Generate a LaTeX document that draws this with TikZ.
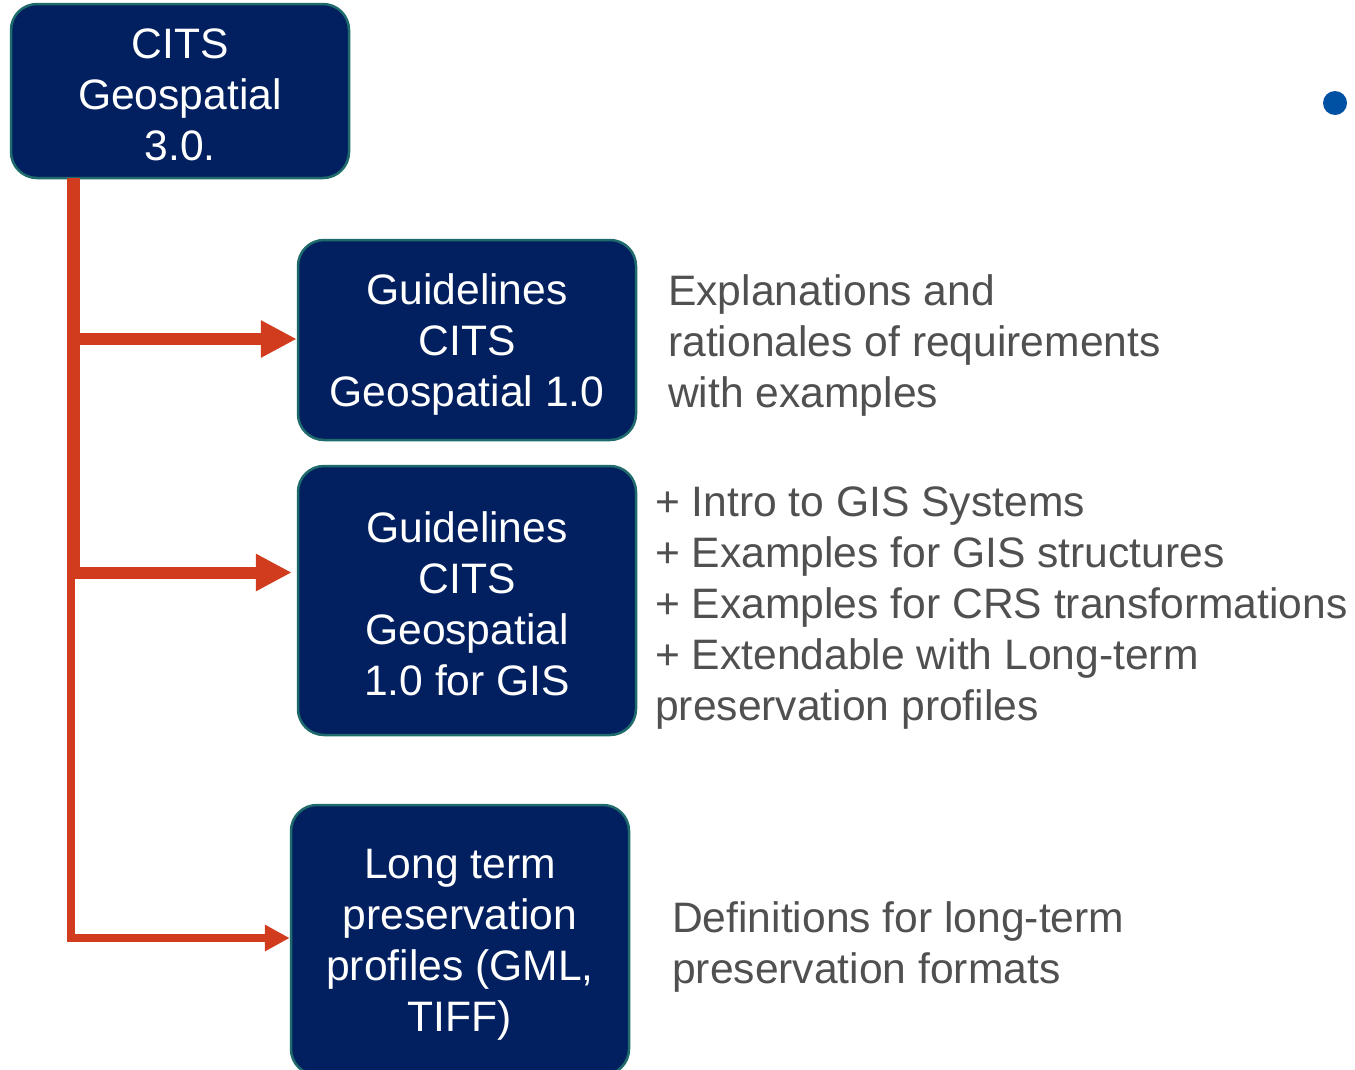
\documentclass[tikz,border=0pt]{standalone}
\usepackage{fontspec}
\setmainfont{Liberation Sans}
\usetikzlibrary{arrows.meta}
\definecolor{navy}{HTML}{02205F}
\definecolor{teal}{HTML}{1F6B6B}
\definecolor{arrred}{HTML}{D13C1E}
\definecolor{txtgray}{HTML}{505050}
\definecolor{dotblue}{HTML}{0051A4}
\tikzset{
  box/.style={draw=teal, line width=2.5pt, fill=navy, rounded corners=26pt,
    inner sep=0pt, minimum width=338pt},
  boxtext/.style={text=white, align=center, inner sep=0pt,
    font=\fontsize{42.6}{51}\selectfont},
  note/.style={text=txtgray, align=left, anchor=west, inner sep=0pt,
    font=\fontsize{42.6}{51}\selectfont},
  thick arrow/.style={draw=arrred, line width=12pt, line cap=butt,
    -{Triangle[length=36pt,width=35pt]}},
  thin arrow/.style={draw=arrred, line width=8pt, line cap=butt, line join=miter,
    -{Triangle[length=25pt,width=25pt]}}
}
\begin{document}
\begin{tikzpicture}[x=1pt,y=-1pt]
\useasboundingbox (0,0) rectangle (1355,1069);
\clip (0,0) rectangle (1355,1069);
\node[box, minimum height=174pt] (b1) at (180,91) {};
\node[box, minimum height=200pt] (b2) at (467,340) {};
\node[box, minimum height=269pt] (b3) at (467,600.5) {};
\node[box, minimum height=270pt] (b4) at (460,940) {};
\node[boxtext] (b1t) at ([yshift=-4pt]b1.center) {CITS\\Geospatial\\3.0.};
\node[boxtext] (b2t) at ([yshift=-4.5pt]b2.center) {Guidelines\\CITS\\Geospatial 1.0};
\node[boxtext] (b3t) at ([yshift=-3pt]b3.center) {Guidelines\\CITS\\Geospatial\\1.0 for GIS};
\node[boxtext] (b4t) at ([yshift=-5pt]b4.center) {Long term\\preservation\\profiles (GML,\\TIFF)};
\node[note] (n2) at (668,345) {Explanations and\\rationales of requirements\\with examples};
\node[note] (n3) at (655,608.5) {+ Intro to GIS Systems\\+ Examples for GIS structures\\+ Examples for CRS transformations\\+ Extendable with Long-term\\preservation profiles};
\node[note] (n4) at (672,947) {Definitions for long-term\\preservation formats};
\node[circle, fill=dotblue, minimum size=24pt, inner sep=0pt] (dot) at (1335,103) {};
% trunk
\coordinate (t0) at (73.5,178);
\coordinate (t1) at (73.5,339);
\coordinate (t2) at (73.5,578);
\coordinate (t3) at (71,578);
\coordinate (t4) at (71,938);
\draw[draw=arrred, line width=13pt, line cap=butt] (t0) -- (t2);
\draw[thick arrow] (t1) -- (b2.west |- t1);
\draw[thick arrow, shorten >=5pt] (73.5,572.5) -- (b3.west |- 0,572.5);
\draw[thin arrow] (t3) -- (t4) -- (b4.west |- t4);
\end{tikzpicture}
\end{document}
